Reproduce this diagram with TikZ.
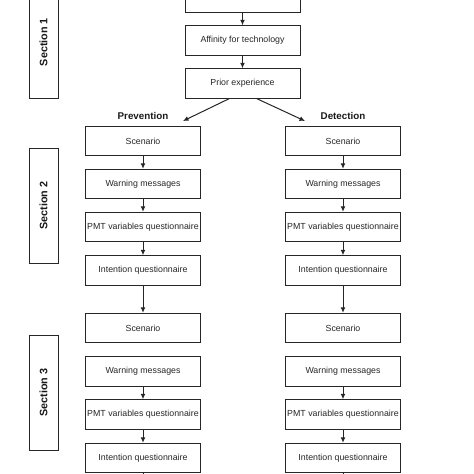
\documentclass[tikz,border=0pt]{standalone}
\usepackage{fontspec}
\setmainfont{Liberation Sans}
\usetikzlibrary{arrows.meta}
\begin{document}
\begin{tikzpicture}[x=1pt,y=-1pt,
  stepbox/.style={draw=black!85, line width=1pt, minimum width=115pt, minimum height=29.5pt, inner sep=0pt, font=\fontsize{8.8}{10}\selectfont, text=black!85},
  secbox/.style={draw=black!85, line width=1pt, minimum height=29pt, inner sep=0pt, font=\bfseries\fontsize{10.8}{12}\selectfont, text=black!90},
  lbl/.style={font=\bfseries\fontsize{9.8}{12}\selectfont, text=black!90},
  conn/.style={draw=black!85, line width=1pt, -{Latex[length=5.5pt,width=5pt]}}]
\useasboundingbox (0,0) rectangle (474,474);
\clip (0,0) rectangle (474,474);
% section boxes
\node[secbox, minimum width=112pt, rotate=90] (s1) at (43.5,42) {Section 1};
\node[secbox, minimum width=115pt, rotate=90] (s2) at (43.5,205.5) {Section 2};
\node[secbox, minimum width=115pt, rotate=90] (s3) at (43.5,392.5) {Section 3};
% top column
\node[stepbox] (top) at (242.5,-2.5) {};
\node[stepbox] (aff) at (242.5,40.5) {Affinity for technology};
\node[stepbox] (pri) at (242.5,83.5) {Prior experience};
\draw[conn] (top) -- (aff);
\draw[conn] (aff) -- (pri);
% labels
\node[lbl] (prev) at (143,116) {Prevention};
\node[lbl] (det) at (343,116) {Detection};
\coordinate (pl) at (183,121);
\coordinate (pr) at (305,121);
\draw[conn] ([xshift=-13.5pt]pri.south) -- (pl);
\draw[conn] ([xshift=14.5pt]pri.south) -- (pr);
% columns
\foreach \c/\x in {L/143,R/343}{
  \node[stepbox] (sc1\c) at (\x,141) {Scenario};
  \node[stepbox] (wm1\c) at (\x,184) {Warning messages};
  \node[stepbox] (pm1\c) at (\x,227) {PMT variables questionnaire};
  \node[stepbox] (in1\c) at (\x,270.5) {Intention questionnaire};
  \node[stepbox] (sc2\c) at (\x,328) {Scenario};
  \node[stepbox] (wm2\c) at (\x,371.5) {Warning messages};
  \node[stepbox] (pm2\c) at (\x,414.5) {PMT variables questionnaire};
  \node[stepbox] (in2\c) at (\x,458) {Intention questionnaire};
  \coordinate (end\c) at (\x,490);
  \draw[conn] (sc1\c) -- (wm1\c);
  \draw[conn] (wm1\c) -- (pm1\c);
  \draw[conn] (pm1\c) -- (in1\c);
  \draw[conn] (in1\c) -- (sc2\c);
  \draw[conn] (wm2\c) -- (pm2\c);
  \draw[conn] (pm2\c) -- (in2\c);
  \draw[draw=black!85, line width=1pt] (in2\c) -- (end\c);
}
\end{tikzpicture}
\end{document}
